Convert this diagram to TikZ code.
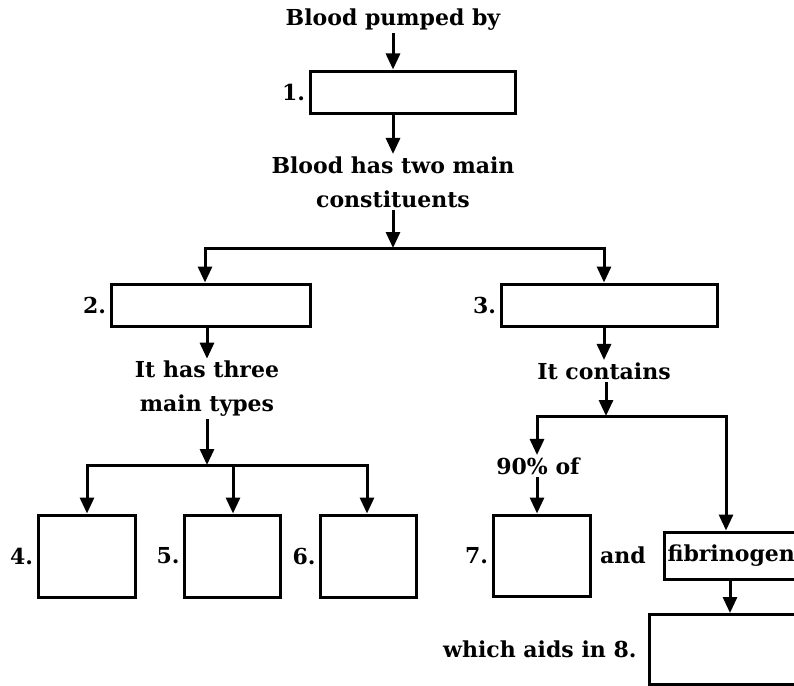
\documentclass[tikz,border=0pt]{standalone}
\usepackage{fontspec}
\setmainfont{DejaVu Serif}
\usetikzlibrary{arrows.meta}
\begin{document}
\begin{tikzpicture}[x=1pt,y=-1pt,
  line width=3pt,
  txt/.style={font=\bfseries\fontsize{22}{34}\selectfont, align=center, inner sep=1pt},
  lbl/.style={font=\bfseries\fontsize{22}{24}\selectfont, anchor=east, inner sep=2pt},
  box/.style={draw, rectangle, inner sep=0pt},
  arr/.style={-{Triangle[width=14pt,length=16pt]}},
  link/.style={line cap=rect}]
\useasboundingbox (0,0) rectangle (794,685);
\clip (0,0) rectangle (794,685);

% top chain
\node[txt] (t0) at (393,20) {Blood pumped by};
\node[box, minimum width=205pt, minimum height=42pt] (b1) at (412.5,92) {};
\node[lbl] (n1) at (b1.west) {1.};
\node[txt] (t1) at (393,182) {Blood has two main\\constituents};
\draw[arr] (t0.south) -- (t0.south |- b1.north);
\draw[arr] (b1.south -| t1.north) -- (t1.north);

% first split
\coordinate (j1) at (393,248);
\coordinate (jl) at (205,248);
\coordinate (jr) at (604,248);
\draw[arr] (t1.south) -- (j1);
\draw[link] (jl) -- (jr);
\node[box, minimum width=199pt, minimum height=42pt] (b2) at (210.5,305) {};
\node[lbl] (n2) at (b2.west) {2.};
\node[box, minimum width=216pt, minimum height=42pt] (b3) at (609,305) {};
\node[lbl] (n3) at (b3.west) {3.};
\draw[arr] (jl) -- (jl |- b2.north);
\draw[arr] (jr) -- (jr |- b3.north);

% left branch
\node[txt] (t2) at (207,389) {It has three\\main types};
\draw[arr] (b2.south -| t2.north) -- (t2.north);
\coordinate (k1) at (207,465);
\coordinate (ka) at (87,465);
\coordinate (kb) at (233,465);
\coordinate (kc) at (367,465);
\draw[arr] (t2.south) -- (k1);
\draw[link] (ka) -- (kc);
\node[box, minimum width=97pt, minimum height=82pt] (b4) at (86.5,556) {};
\node[lbl] (n4) at (b4.west) {4.};
\node[box, minimum width=96pt, minimum height=82pt] (b5) at (232.5,556) {};
\node[lbl] (n5) at (b5.west) {5.};
\node[box, minimum width=96pt, minimum height=82pt] (b6) at (368.5,556) {};
\node[lbl] (n6) at (b6.west) {6.};
\draw[arr] (ka) -- (ka |- b4.north);
\draw[arr] (kb) -- (kb |- b5.north);
\draw[arr] (kc) -- (kc |- b6.north);

% right branch
\node[txt] (t3) at (604,371) {It contains};
\draw[arr] (b3.south -| t3.north) -- (t3.north);
\coordinate (m1) at (606,416);
\coordinate (ml) at (537,416);
\coordinate (mr) at (726,416);
\draw[arr] (t3.south -| m1) -- (m1);
\draw[link] (ml) -- (mr);
\node[txt] (t4) at (538,466) {90\% of};
\draw[arr] (ml) -- (t4.north -| ml);
\node[box, minimum width=97pt, minimum height=81pt] (b7) at (541.5,555.5) {};
\node[lbl] (n7) at (b7.west) {7.};
\draw[arr] (t4.south -| ml) -- (ml |- b7.north);
\node[txt] (and) at (623,555) {and};
\node[box, anchor=west, inner xsep=3pt, minimum height=47pt] (fb) at (663,555.5) {\bfseries\fontsize{22}{24}\selectfont fibrinogen};
\draw[arr] (mr) -- (mr |- fb.north);
\node[box, anchor=north west, minimum width=160pt, minimum height=70pt] (b8) at (648,613) {};
\node[lbl, anchor=east] (n8) at ([xshift=-8pt]b8.west) {which aids in 8.};
\draw[arr] (fb.south -| 730,0) -- (730,0 |- b8.north);
\end{tikzpicture}
\end{document}
